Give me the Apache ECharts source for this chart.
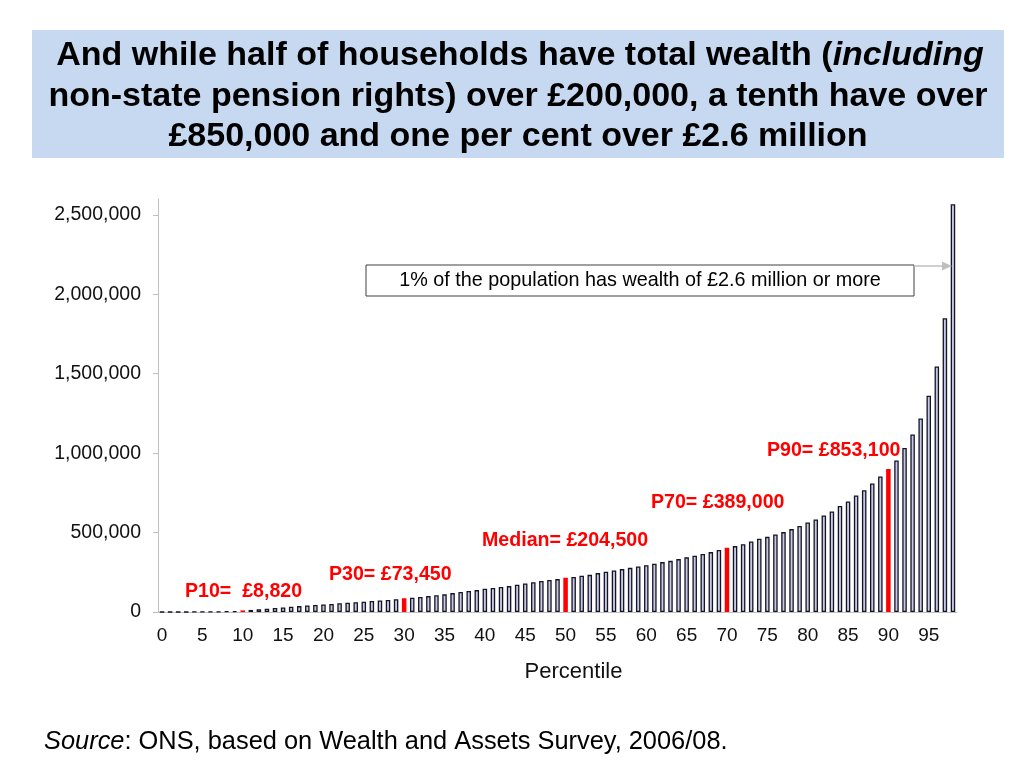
<!DOCTYPE html>
<html>
<head>
<meta charset="utf-8">
<script src="https://cdn.jsdelivr.net/npm/echarts@6/dist/echarts.min.js"></script>
<style>
  html, body { margin: 0; padding: 0; background: #fff; }
  #chart { width: 1024px; height: 768px; }
</style>
</head>
<body>
<div id="chart"></div>
<script>
  // percentile categories shown on the x axis
  const percentiles = []
  for (let p = 0; p <= 98; p++) percentiles.push(String(p))

  // household total wealth at each percentile
  const wealth = [
    0, 0, 0, 0, 500, 1000, 1500, 2500, 3500, 5000,
    10000, 13000, 17000, 21000, 25000, 29000, 33000, 37000, 41000, 44000,
    48000, 51000, 55000, 58000, 62000, 65000, 69000, 72000, 76000, 80000,
    86000, 90000, 95000, 100000, 105000, 111000, 119000, 126000, 132000, 138000,
    147000, 151000, 157000, 163000, 172000, 180000, 187000, 195000, 201000, 207000,
    216000, 220000, 228000, 234000, 245000, 253000, 262000, 270000, 278000, 287000,
    295000, 304000, 314000, 322000, 333000, 344000, 354000, 365000, 377000, 390000,
    404000, 415000, 427000, 444000, 461000, 473000, 488000, 503000, 522000, 541000,
    564000, 583000, 608000, 633000, 668000, 696000, 734000, 767000, 809000, 853000,
    901000, 954000, 1033000, 1117000, 1218000, 1362000, 1546000, 1850000, 2567000
  ]

  // bars drawn in red
  const highlighted = [10, 30, 50, 70, 90]

  const yTicks = [0, 500000, 1000000, 1500000, 2000000, 2500000]

  const markerLabels = ['P10=  £8,820', 'P30= £73,450', 'Median= £204,500', 'P70= £389,000', 'P90= £853,100']

  const FONT = '"Liberation Sans", Arial, Helvetica, sans-serif'

  const chart = echarts.init(document.getElementById('chart'))

  const barData = wealth.map((v, i) => {
    if (highlighted.indexOf(i) >= 0) {
      return { value: v, itemStyle: { color: '#ff0000', borderColor: '#ff0000' } }
    }
    return v
  })

  // red label anchors (left edge, vertical centre) in pixels
  const markerPos = [[185, 592], [329, 575], [482, 541], [651, 503], [767, 451]]

  const graphic = [
    {
      type: 'rect',
      shape: { x: 32, y: 30, width: 972, height: 128 },
      style: { fill: '#c6d9f1' },
      z: 0
    },
    {
      type: 'text', x: 520, y: 56,
      style: {
        text: '{b|And while half of households have total wealth (}{i|including}',
        textAlign: 'center', textVerticalAlign: 'middle',
        rich: {
          b: { font: 'bold 34px ' + FONT, fill: '#000' },
          i: { font: 'italic bold 34px ' + FONT, fill: '#000' }
        }
      }
    },
    {
      type: 'text', x: 518, y: 97,
      style: {
        text: 'non-state pension rights) over £200,000, a tenth have over',
        font: 'bold 34px ' + FONT, fill: '#000',
        textAlign: 'center', textVerticalAlign: 'middle'
      }
    },
    {
      type: 'text', x: 518, y: 137,
      style: {
        text: '£850,000 and one per cent over £2.6 million',
        font: 'bold 34px ' + FONT, fill: '#000',
        textAlign: 'center', textVerticalAlign: 'middle'
      }
    },
    // callout for top percentile
    {
      type: 'rect',
      shape: { x: 366, y: 265, width: 548, height: 31 },
      style: { fill: '#fff', stroke: '#404040', lineWidth: 1 },
      z: 10
    },
    {
      type: 'text', x: 640, y: 281, z: 11,
      style: {
        text: '1% of the population has wealth of £2.6 million or more',
        font: '19.8px ' + FONT, fill: '#000',
        textAlign: 'center', textVerticalAlign: 'middle'
      }
    },
    {
      type: 'line',
      shape: { x1: 914, y1: 266, x2: 944, y2: 266 },
      style: { stroke: '#bfbfbf', lineWidth: 1.5 },
      z: 10
    },
    {
      type: 'polygon',
      shape: { points: [[952, 266], [942, 261.5], [942, 270.5]] },
      style: { fill: '#bfbfbf' },
      z: 10
    },
    {
      type: 'text', x: 44, y: 742,
      style: {
        text: '{i|Source}{n|: ONS, based on Wealth and Assets Survey, 2006/08.}',
        textVerticalAlign: 'middle',
        rich: {
          i: { font: 'italic 25.4px ' + FONT, fill: '#000' },
          n: { font: '25.4px ' + FONT, fill: '#000' }
        }
      }
    }
  ]

  markerLabels.forEach((t, k) => {
    graphic.push({
      type: 'text', x: markerPos[k][0], y: markerPos[k][1], z: 12,
      style: {
        text: t, font: 'bold 19.6px ' + FONT, fill: '#ff0000',
        textAlign: 'left', textVerticalAlign: 'middle'
      }
    })
  })

  chart.setOption({
    animation: false,
    textStyle: { fontFamily: FONT },
    grid: { left: 158, right: 67, top: 199, bottom: 156 },
    xAxis: {
      type: 'category',
      data: percentiles,
      boundaryGap: true,
      axisLine: { lineStyle: { color: '#bfbfbf', width: 1 } },
      axisTick: { interval: 4, length: 5, alignWithLabel: false, lineStyle: { color: '#bfbfbf' } },
      axisLabel: { interval: 4, color: '#111', fontSize: 19, margin: 14 },
      name: 'Percentile',
      nameLocation: 'middle',
      nameGap: 49,
      nameTextStyle: { color: '#111', fontSize: 22, padding: [0, 0, 0, 32] }
    },
    yAxis: {
      type: 'value',
      min: 0,
      max: 2600000,
      interval: 500000,
      splitLine: { show: false },
      axisLine: { show: true, lineStyle: { color: '#bfbfbf', width: 1 } },
      axisTick: { show: true, length: 5, customValues: yTicks, lineStyle: { color: '#bfbfbf' } },
      axisLabel: {
        customValues: yTicks,
        color: '#111',
        fontSize: 19.5,
        margin: 17,
        formatter: v => Number(v).toLocaleString('en-GB')
      }
    },
    series: [{
      type: 'bar',
      data: barData,
      barWidth: 4.5,
      itemStyle: { color: '#c7c9e0', borderColor: '#141428', borderWidth: 1.3 }
    }],
    graphic: graphic
  })
</script>
</body>
</html>
